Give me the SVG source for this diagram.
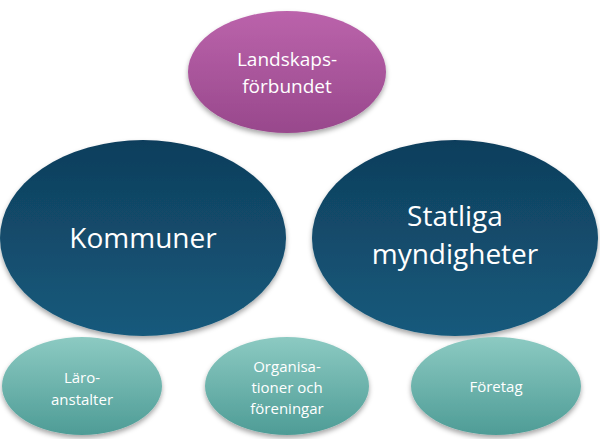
<svg xmlns="http://www.w3.org/2000/svg" width="600" height="439" viewBox="0 0 600 439">
<defs>
<linearGradient id="gp" x1="0" y1="0" x2="0" y2="1"><stop offset="0" stop-color="#bb63ab"/><stop offset="1" stop-color="#98488c"/></linearGradient>
<linearGradient id="gd" x1="0" y1="0" x2="0" y2="1"><stop offset="0" stop-color="#0f3e5c"/><stop offset="1" stop-color="#165a7c"/></linearGradient>
<linearGradient id="gt" x1="0" y1="0" x2="0" y2="1"><stop offset="0" stop-color="#8ccac2"/><stop offset="1" stop-color="#4e9c96"/></linearGradient>
<filter id="sh" x="-10%" y="-10%" width="120%" height="130%"><feDropShadow dx="0" dy="3" stdDeviation="2.5" flood-color="#000" flood-opacity="0.35"/></filter>
</defs>
<style>
text{font-family:"Open Sans","Liberation Sans",sans-serif;fill:#fff;text-anchor:middle}
.s{font-size:15px}.m{font-size:19px}.l{font-size:28px}
</style>
<g id="connectors"/>
<g id="landskapsforbundet"><ellipse cx="287" cy="72" rx="99" ry="61" fill="url(#gp)" filter="url(#sh)"/><text class="m" x="287" y="66">Landskaps-</text><text class="m" x="287" y="93">förbundet</text></g>
<g id="kommuner"><ellipse cx="143" cy="238" rx="143" ry="98" fill="url(#gd)" filter="url(#sh)"/><text class="l" x="143" y="248">Kommuner</text></g>
<g id="statliga"><ellipse cx="455" cy="238" rx="143" ry="98" fill="url(#gd)" filter="url(#sh)"/><text class="l" x="455" y="226">Statliga</text><text class="l" x="455" y="264">myndigheter</text></g>
<g id="laroanstalter"><ellipse cx="82" cy="386" rx="80" ry="49" fill="url(#gt)" filter="url(#sh)"/><text class="s" x="82" y="383">Läro-</text><text class="s" x="82" y="405">anstalter</text></g>
<g id="organisationer"><ellipse cx="287" cy="386" rx="82" ry="49" fill="url(#gt)" filter="url(#sh)"/><text class="s" x="287" y="372">Organisa-</text><text class="s" x="287" y="393">tioner och</text><text class="s" x="287" y="414">föreningar</text></g>
<g id="foretag"><ellipse cx="496" cy="386" rx="85" ry="49" fill="url(#gt)" filter="url(#sh)"/><text class="s" x="496" y="392">Företag</text></g>
</svg>
